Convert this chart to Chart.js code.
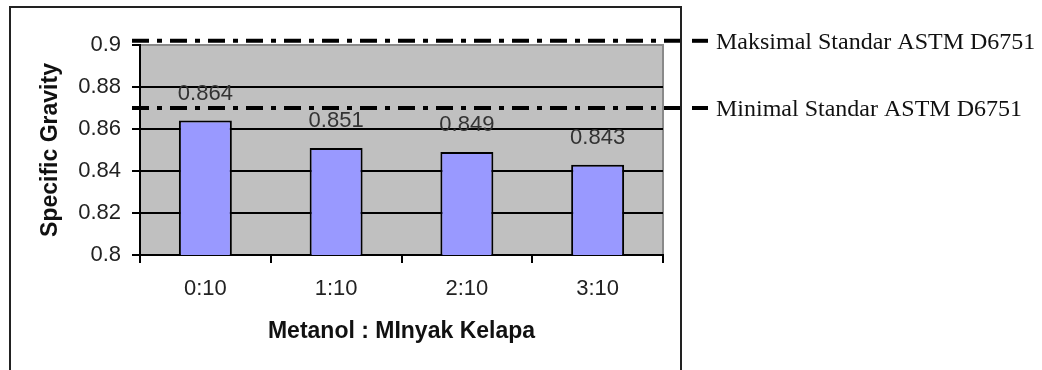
<!DOCTYPE html>
<html>
<head>
<meta charset="utf-8">
<script src="https://cdn.jsdelivr.net/npm/chart.js@4.4.1/dist/chart.umd.min.js"></script>
<style>
  html, body { margin: 0; padding: 0; background: #fff; }
  #wrap { width: 1042px; height: 370px; }
</style>
</head>
<body>
<div id="wrap"><canvas id="sg"></canvas></div>
<script>
// specific gravity per methanol : coconut oil ratio
var categories = ['0:10', '1:10', '2:10', '3:10'];
var specificGravity = [0.864, 0.851, 0.849, 0.843];
var yTicks = [0.8, 0.82, 0.84, 0.86, 0.88, 0.9];
// ASTM D6751 limits, drawn as dash-dot lines
var standardValues = [0.902, 0.87];
var standardNames = ['Maksimal Standar ASTM D6751', 'Minimal Standar ASTM D6751'];

var sansFont = "'Liberation Sans', Arial, sans-serif";
var serifFont = "'Liberation Serif', 'Times New Roman', serif";

// white page, outer box and grey plot area
var framePlugin = {
    id: 'frame',
    beforeDraw: function (chart) {
        var ctx = chart.ctx;
        var a = chart.chartArea;
        ctx.save();
        ctx.fillStyle = '#fff';
        ctx.fillRect(0, 0, chart.width, chart.height);
        ctx.strokeStyle = '#222';
        ctx.lineWidth = 2;
        ctx.strokeRect(10, 7, 671, 400);
        ctx.fillStyle = '#c0c0c0';
        ctx.fillRect(a.left, a.top, a.right - a.left, a.bottom - a.top);
        ctx.strokeStyle = '#8a8a8a';
        ctx.beginPath();
        ctx.moveTo(a.left, a.top);
        ctx.lineTo(a.right, a.top);
        ctx.lineTo(a.right, a.bottom);
        ctx.stroke();
        ctx.restore();
    }
};

// value labels above each bar
var valueLabels = {
    id: 'valueLabels',
    afterDatasetsDraw: function (chart) {
        var ctx = chart.ctx;
        var meta = chart.getDatasetMeta(0);
        ctx.save();
        ctx.font = '22px ' + sansFont;
        ctx.fillStyle = '#333';
        ctx.textAlign = 'center';
        ctx.textBaseline = 'middle';
        meta.data.forEach(function (bar, i) {
            ctx.fillText(specificGravity[i].toFixed(3), bar.x, bar.y - 27);
        });
        ctx.restore();
    }
};

// standard limit lines with their legend on the right
var standardLines = {
    id: 'standardLines',
    afterDraw: function (chart) {
        var ctx = chart.ctx;
        var yScale = chart.scales.y;
        var left = chart.chartArea.left - 8;
        ctx.save();
        standardValues.forEach(function (v, i) {
            var y = yScale.getPixelForValue(v);
            ctx.strokeStyle = '#000';
            ctx.lineWidth = 4;
            ctx.setLineDash([17, 8, 5, 8]);
            ctx.beginPath();
            ctx.moveTo(left, y);
            ctx.lineTo(680, y);
            ctx.stroke();
            ctx.setLineDash([]);
            ctx.beginPath();
            ctx.moveTo(692, y);
            ctx.lineTo(708, y);
            ctx.stroke();
            ctx.font = '24px ' + serifFont;
            ctx.fillStyle = '#111';
            ctx.textAlign = 'left';
            ctx.textBaseline = 'middle';
            ctx.fillText(standardNames[i], 716, y + 2);
        });
        ctx.restore();
    }
};

new Chart(document.getElementById('sg'), {
    type: 'bar',
    data: {
        labels: categories,
        datasets: [{
            data: specificGravity,
            backgroundColor: '#9999ff',
            borderColor: '#000',
            borderWidth: 2,
            categoryPercentage: 1,
            barPercentage: 0.405
        }]
    },
    options: {
        responsive: true,
        maintainAspectRatio: false,
        animation: false,
        layout: { padding: { left: 33, top: 45, right: 379, bottom: 21 } },
        plugins: {
            legend: { display: false },
            tooltip: { enabled: false }
        },
        scales: {
            x: {
                grid: { offset: true, drawOnChartArea: false, tickLength: 8, color: '#000', lineWidth: 2 },
                border: { color: '#000', width: 2 },
                ticks: { color: '#222', font: { family: sansFont, size: 22 }, padding: 13 },
                title: {
                    display: true,
                    text: 'Metanol : MInyak Kelapa',
                    color: '#111',
                    font: { family: sansFont, size: 23, weight: 'bold' }
                },
                afterFit: function (scale) { scale.height = 94; }
            },
            y: {
                min: 0.8,
                max: 0.9,
                afterBuildTicks: function (scale) {
                    scale.ticks = yTicks.map(function (v) { return { value: v }; });
                },
                grid: {
                    color: function (c) {
                        return c.tick && c.tick.value >= 0.9 ? 'rgba(0,0,0,0)' : '#000';
                    },
                    lineWidth: 2,
                    tickLength: 8,
                    tickColor: '#000',
                    tickWidth: 2
                },
                border: { color: '#000', width: 2 },
                ticks: {
                    color: '#222',
                    padding: 11,
                    font: { family: sansFont, size: 22 },
                    callback: function (v) { return String(Number(v.toFixed(2))); }
                },
                title: {
                    display: true,
                    text: 'Specific Gravity',
                    color: '#111',
                    font: { family: sansFont, size: 23, weight: 'bold' }
                },
                afterFit: function (scale) { scale.width = 107; }
            }
        }
    },
    plugins: [framePlugin, valueLabels, standardLines]
});
</script>
</body>
</html>
